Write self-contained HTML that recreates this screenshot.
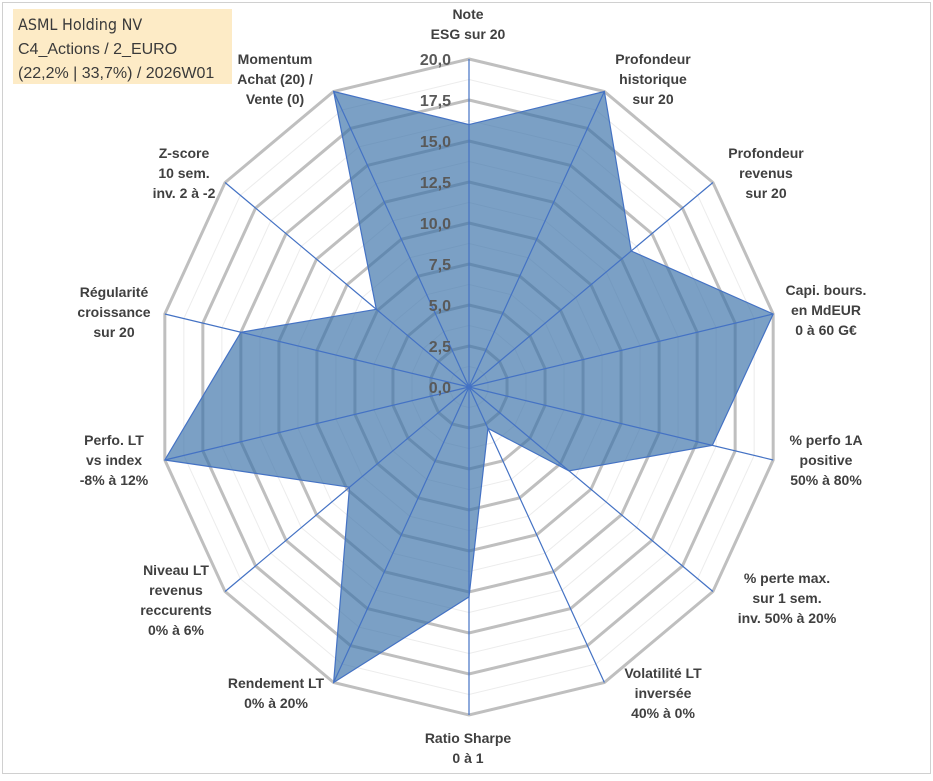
<!DOCTYPE html>
<html><head><meta charset="utf-8"><style>
body{margin:0;background:#fff;}
svg text{font-family:"Liberation Sans",sans-serif;}
</style></head><body>
<svg id="chart" width="933" height="776" viewBox="0 0 933 776" xmlns="http://www.w3.org/2000/svg">
<rect x="2.5" y="2.5" width="928" height="771" fill="#fff" stroke="#d0d0d0" stroke-width="1"/>
<g id="grid"></g>
<g id="series"></g>
<g id="spokes"></g>
<g id="ticks"></g>
<g id="labels"></g>
<g>
<rect x="13" y="9" width="219" height="75" fill="#fdebc6"/>
<text x="18" y="30" font-size="16" fill="#3a3a3a" style="font-family:'DejaVu Sans Condensed','Liberation Sans',sans-serif" font-size="15">ASML Holding NV</text>
<text x="18" y="54" font-size="16" fill="#3a3a3a">C4_Actions / 2_EURO</text>
<text x="18" y="78" font-size="16" fill="#3a3a3a">(22,2% | 33,7%) / 2026W01</text>
</g>
</svg>
<script>
const categories=[
 ["Note","ESG sur 20"],
 ["Profondeur","historique","sur 20"],
 ["Profondeur","revenus","sur 20"],
 ["Capi. bours.","en MdEUR","0 à 60 G€"],
 ["% perfo 1A","positive","50% à 80%"],
 ["% perte max.","sur 1 sem.","inv. 50% à 20%"],
 ["Volatilité LT","inversée","40% à 0%"],
 ["Ratio Sharpe","0 à 1"],
 ["Rendement LT","0% à 20%"],
 ["Niveau LT","revenus","reccurents","0% à 6%"],
 ["Perfo. LT","vs index","-8% à 12%"],
 ["Régularité","croissance","sur 20"],
 ["Z-score","10 sem.","inv. 2 à -2"],
 ["Momentum","Achat (20) /","Vente (0)"]
];
const values=[16,20,13.3,20,16,8.2,2.8,12.8,20,9.8,20,15,7.6,20];
const tickLabels=["0,0","2,5","5,0","7,5","10,0","12,5","15,0","17,5","20,0"];
const labelPos=[[468,14],[653,59],[766,153],[826,290],[826,440],[787,578],[663,673],[468,738],[276,683],[176,570],[114,440],[114,292],[184,153],[275,59]];
const NS="http://www.w3.org/2000/svg";
const cx=469,cy=387,RX=312,RY=328,MAX=20,N=categories.length;
function pt(i,v){const a=i*2*Math.PI/N;return [cx+Math.sin(a)*RX*v/MAX, cy-Math.cos(a)*RY*v/MAX];}
function mk(tag,attrs,parent){const e=document.createElementNS(NS,tag);for(const k in attrs)e.setAttribute(k,attrs[k]);parent.appendChild(e);return e;}
const grid=document.getElementById('grid');
for(let s=1;s<=16;s++){
 const v=s*1.25;const major=s%2===0;
 const p=[];for(let i=0;i<N;i++)p.push(pt(i,v).join(','));
 const el=mk('polygon',{points:p.join(' '),fill:'none',stroke:major?'#bfbfbf':'#ececec','stroke-width':major?3:1},grid);
 
 
}
const ser=document.getElementById('series');
const sp=values.map((v,i)=>pt(i,v).join(','));
const poly=mk('polygon',{points:sp.join(' '),fill:'rgb(60,115,170)','fill-opacity':0.68,stroke:'#4472c4','stroke-width':1.2},ser);


const spk=document.getElementById('spokes');
for(let i=0;i<N;i++){
 const [x,y]=pt(i,MAX);
 const l=mk('line',{x1:cx,y1:cy,x2:x,y2:y,stroke:'#4472c4','stroke-width':1.2},spk);
 
 
}
const tk=document.getElementById('ticks');
tickLabels.forEach((t,k)=>{
 const v=k*2.5;const y=cy-RY*v/MAX;
 const e=mk('text',{x:451,y:y+6,'text-anchor':'end','font-size':16,'font-weight':'bold',fill:'#595959'},tk);
 e.textContent=t;
 
 
});
const lb=document.getElementById('labels');
categories.forEach((lines,i)=>{
 const [x,y]=labelPos[i];
 const g=mk('text',{'text-anchor':'middle','font-size':14,'font-weight':'bold',fill:'#404040'},lb);
 
 
 lines.forEach((ln,j)=>{const ts=mk('tspan',{x:x,y:y+5+j*20},g);ts.textContent=ln;});
});
</script>
</body></html>
